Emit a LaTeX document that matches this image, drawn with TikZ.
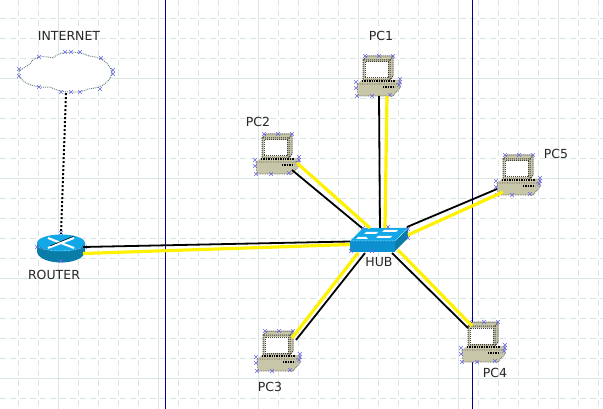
\documentclass[tikz,border=0pt]{standalone}
\usepackage{fontspec}
\setmainfont{DejaVu Sans}
\definecolor{gridcol}{HTML}{D8E6E2}
\definecolor{guidecol}{HTML}{00008B}
\definecolor{beigecol}{HTML}{C8C6A8}
\definecolor{handlecol}{HTML}{6A6AE8}
\definecolor{topcol}{HTML}{12A8E8}
\definecolor{frontcol}{HTML}{0C90D0}
\definecolor{sidecol}{HTML}{0A7CA8}
\definecolor{cloudcol}{HTML}{607C7C}
\tikzset{
    handle/.pic={
        \draw[handlecol,line width=0.6pt] (-1.8,-1.8) -- (1.8,1.8) (-1.8,1.8) -- (1.8,-1.8);
    },
    pc icon/.pic={
        % monitor
        \fill[beigecol] (-15,-16) -- (-11,-20) -- (15,-20) -- (15,0) -- (12,4) -- (-15,4) -- cycle;
        \fill[white] (-13,-14) rectangle (10,2);
        \draw[black!75,densely dotted,line width=1pt] (-15,-16) rectangle (12,4) (-15,-16) -- (-11,-20) -- (15,-20) -- (15,0) -- (12,4) (12,-16) -- (15,-20);
        \draw[black!75,densely dotted,line width=1pt] (-13,-14) rectangle (10,2);
        % base
        \fill[beigecol] (-21,8) -- (-16,4) -- (18,4) -- (22,4) -- (22,12) -- (15,20) -- (-20,20) -- cycle;
        \draw[black,densely dotted,line width=1.4pt] (-16,5) -- (17,5);
        \draw[black!70,densely dotted,line width=0.7pt] (-21,8) -- (20,8) (-21,8) -- (-20,20) -- (15,20) -- (22,12) -- (22,4);
        \draw[black,densely dotted,line width=1.4pt] (5,11) -- (17,11);
        % handles
        \foreach \hx/\hy in {-13/-20,1/-20,15/-20,-22/6,-22/12,-21/20,-6/20,12/19,22/3,22/6,21/9}
            \pic at (\hx,\hy) {handle};
    },
    label node/.style={font=\fontsize{12.5}{14}\selectfont,text=black!85,inner sep=0pt},
    pc node/.style={inner sep=0pt,minimum width=44pt,minimum height=40pt},
    black link/.style={black,line width=1.8pt},
    yellow link/.style={yellow,line width=3.2pt},
}
\begin{document}
\begin{tikzpicture}[x=1pt,y=-1pt]
    \useasboundingbox (0,0) rectangle (603,409);
    \fill[white] (0,0) rectangle (603,409);

    % grid
    \foreach \gx in {18,38,...,598}
        \draw[gridcol,dash pattern=on 6pt off 4pt,line width=0.6pt] (\gx,0) -- (\gx,409);
    \foreach \gy in {18,38,...,398}
        \draw[gridcol,dash pattern=on 6pt off 4pt,line width=0.6pt] (0,\gy) -- (603,\gy);
    \foreach \gx in {58,158,...,558}
        \draw[gridcol,line width=0.8pt] (\gx,0) -- (\gx,409);
    \foreach \gy in {78,178,278,378}
        \draw[gridcol,line width=0.8pt] (0,\gy) -- (603,\gy);
    \draw[guidecol,line width=1pt] (165,0) -- (165,409);
    \draw[guidecol,line width=1pt] (472,0) -- (472,409);

    \node[inner sep=0pt,minimum width=96pt,minimum height=41pt] at (66,72.5) (internet) {};
    \node[inner sep=0pt,minimum width=48pt,minimum height=28pt] at (61,248) (router) {};
    \node[inner sep=0pt,minimum width=58pt,minimum height=24pt] at (379,240) (hub) {};
    \node[pc node] at (378,76) (pc1) {};
    \node[pc node] at (277,154) (pc2) {};
    \node[pc node] at (278,351) (pc3) {};
    \node[pc node] at (483,342) (pc4) {};
    \node[pc node] at (518,175) (pc5) {};

    \node[label node] at (69,36) (internetlabel) {INTERNET};
    \node[label node] at (54,275) (routerlabel) {ROUTER};
    \node[label node] at (379,262) (hublabel) {HUB};
    \node[label node] at (381,36) (pc1label) {PC1};
    \node[label node] at (258,122) (pc2label) {PC2};
    \node[label node] at (270,387) (pc3label) {PC3};
    \node[label node] at (495,373) (pc4label) {PC4};
    \node[label node] at (556,154) (pc5label) {PC5};

    % cloud
    \draw[cloudcol,fill=white,densely dotted,line width=0.9pt] (19,71) -- (30,64) .. controls (34,55) and (45,56) .. (53,58) .. controls (60,50) and (80,51) .. (89,56) .. controls (100,57) and (108,61) .. (112,72) .. controls (110,84) and (100,88) .. (88,89) .. controls (80,94) and (60,93) .. (50,87) .. controls (40,88) and (25,86) .. (19,76) -- cycle;
    \foreach \hx/\hy in {19/69,19/76,39/57,65/52,71/52,80/52,101/58,113/70,113/74,100/89,80/92,71/92,61/92,39/87}
        \pic at (\hx,\hy) {handle};

    % router
    \fill[sidecol] (37,243) -- (37,252) .. controls (40,266) and (82,266) .. (85,252) -- (85,243) -- cycle;
    \fill[topcol] (61,243) ellipse [x radius=24,y radius=8.5];
    \draw[white,line width=2pt] (48,238) -- (74,248) (48,248) -- (74,238);
    \draw[black,line width=0.5pt] (50,246) -- (74,236);
    \draw[white,densely dotted,line width=0.4pt] (38,247) .. controls (45,252) and (75,252) .. (84,247);
    \foreach \hx/\hy in {61/233,37/247,85/247,61/261}
        \pic at (\hx,\hy) {handle};

    % hub
    \fill[sidecol] (395,241) -- (408,228) -- (408,238) -- (394,252) -- cycle;
    \fill[frontcol] (350,241) rectangle (395,252);
    \fill[topcol] (350,241) -- (363,228) -- (408,228) -- (395,241) -- cycle;
    \draw[white,densely dotted,line width=0.5pt] (350,241) -- (395,241) -- (408,228);
    \fill[white] (366,232) -- (378,232) -- (376,234) -- (364,234) -- cycle;
    \fill[white] (384,230) -- (398,230) -- (396,232) -- (382,232) -- cycle;
    \fill[white] (356,239) -- (368,239) -- (366,237) -- (358,237) -- cycle;
    \fill[white] (378,236) -- (392,236) -- (390,238) -- (376,238) -- cycle;
    \foreach \hx/\hy in {363/228,388/227,408/229,408/238,351/251,372/251}
        \pic at (\hx,\hy) {handle};

    % computers
    \pic at (pc1) {pc icon};
    \pic at (pc2) {pc icon};
    \pic at (pc3) {pc icon};
    \pic at (pc4) {pc icon};
    \pic at (pc5) {pc icon};

    % links
    \draw[black,line width=2pt,dash pattern=on 2pt off 2pt] (internet.south) -- (router.north);
    \draw[black link] ([shift={(1,20)}]pc1.center) -- ([shift={(1,-12)}]hub.center);
    \draw[yellow link] ([shift={(9,20)}]pc1.center) -- ([shift={(6,-12)}]hub.center);
    \draw[black link] ([shift={(15,16)}]pc2.center) -- ([shift={(-17,-12)}]hub.center);
    \draw[yellow link] ([shift={(20,9)}]pc2.center) -- ([shift={(-9,-12)}]hub.center);
    \draw[black link] ([shift={(18,-11)}]pc3.center) -- ([shift={(-14,13)}]hub.center);
    \draw[yellow link] ([shift={(14,-13)}]pc3.center) -- ([shift={(-21,13)}]hub.center);
    \draw[black link] ([shift={(-15,-14)}]pc4.center) -- ([shift={(13,13)}]hub.center);
    \draw[yellow link] ([shift={(-11,-16)}]pc4.center) -- ([shift={(19,10)}]hub.center);
    \draw[black link] ([shift={(-21,14)}]pc5.center) -- ([shift={(28,-13)}]hub.center);
    \draw[yellow link] ([shift={(-15,17)}]pc5.center) -- ([shift={(29,-5)}]hub.center);
    \draw[black link] ([shift={(22,-1)}]router.center) -- ([shift={(-29,1.5)}]hub.center);
    \draw[yellow link] ([shift={(22,5.5)}]router.center) -- ([shift={(-29,4.5)}]hub.center);
\end{tikzpicture}
\end{document}
